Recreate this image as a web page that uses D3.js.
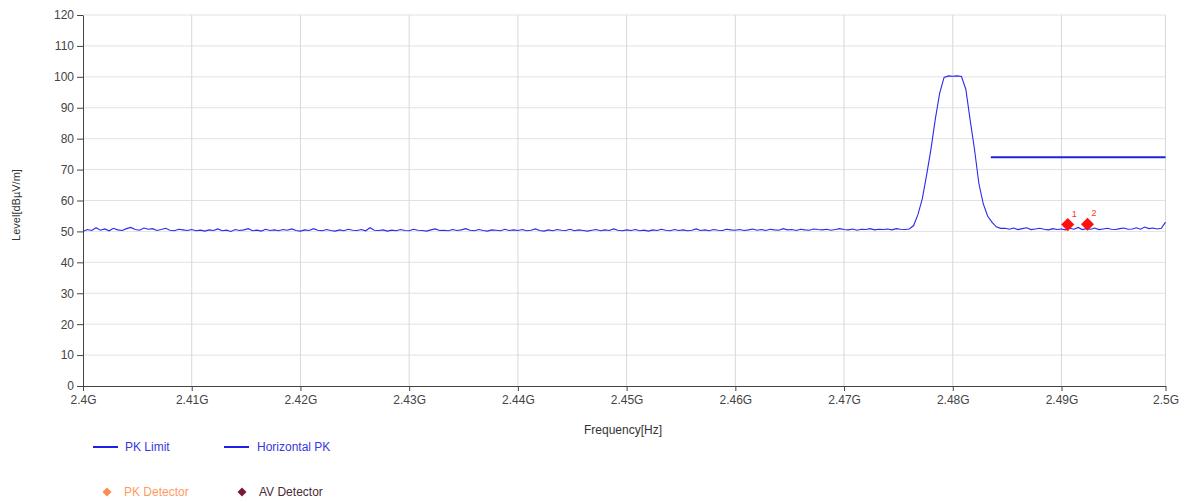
<!DOCTYPE html>
<html><head><meta charset="utf-8">
<script src="https://cdn.jsdelivr.net/npm/d3@7"></script>
<style>body{margin:0;background:#fff;font-family:"Liberation Sans",Arial,sans-serif;}</style>
</head><body><svg id="c" width="1185" height="502"></svg>
<script>
// ---- data ----
const xTicks = [2.4, 2.41, 2.42, 2.43, 2.44, 2.45, 2.46, 2.47, 2.48, 2.49, 2.5];
const yTicks = [0, 10, 20, 30, 40, 50, 60, 70, 80, 90, 100, 110, 120];
const sweepStart = 2.4, sweepStop = 2.5; // GHz
const traceLevels = [
 50.0,50.6,50.3,51.2,50.4,50.8,50.2,51.0,50.5,50.3,50.9,51.3,50.6,50.4,51.1,50.7,50.9,50.3,50.6,51.0,50.4,50.2,50.7,50.5,50.3,
 50.6,50.2,50.4,50.1,50.5,50.3,50.8,50.2,50.4,50.0,50.6,50.3,50.5,50.9,50.2,50.4,50.1,50.7,50.3,50.5,50.2,50.6,50.4,50.8,50.3,
 50.1,50.5,50.3,50.9,50.4,50.2,50.6,50.3,50.1,50.5,50.2,50.7,50.4,50.3,50.6,50.2,51.2,50.4,50.3,50.5,50.1,50.4,50.2,50.6,50.3,
 50.2,50.7,50.4,50.3,50.1,50.5,50.8,50.3,50.4,50.2,50.6,50.3,50.5,50.9,50.4,50.2,50.6,50.3,50.1,50.5,50.4,50.2,50.7,50.3,50.5,
 50.3,50.6,50.2,50.4,50.8,50.3,50.1,50.5,50.2,50.6,50.4,50.3,50.7,50.2,50.5,50.3,50.1,50.4,50.6,50.2,50.5,50.3,50.8,50.4,50.2,
 50.5,50.3,50.6,50.2,50.4,50.1,50.5,50.3,50.7,50.4,50.2,50.6,50.3,50.5,50.2,50.4,50.8,50.3,50.5,50.2,50.6,50.4,50.3,50.7,50.5,
 50.4,50.6,50.3,50.5,50.8,50.4,50.6,50.3,50.7,50.5,50.4,50.9,50.5,50.6,50.3,50.7,50.5,50.4,50.8,50.6,50.5,50.7,50.4,50.6,50.9,
 50.6,50.5,50.8,50.4,50.7,50.6,50.9,50.5,50.7,50.6,50.8,50.5,50.9,50.7,50.6,50.8,
 51.9,55.5,60.6,68.4,76.8,86.5,94.8,99.8,100.3,100.2,100.3,100.1,96.0,86.0,76.5,65.5,59.0,55.0,53.0,51.5,51.0,
 51.0,50.7,51.1,50.6,50.9,51.2,50.6,50.8,51.0,50.7,50.5,50.9,50.6,50.8,50.5,51.0,50.7,51.3,50.6,50.9,
 50.7,51.1,50.6,50.8,51.0,50.7,50.6,50.9,51.1,50.7,50.8,51.2,50.7,51.4,50.9,51.1,50.8,51.0,53.0
];
const limitFreq = [2.4835, 2.5];
const limitLevel = [74, 74];
const markerFreq = [2.4906, 2.4925];
const markerLevel = [52.2, 52.3];
const markerLabel = ["1", "2"];

// ---- chart ----
const svg = d3.select("#c");
const x = d3.scaleLinear().domain([2.4, 2.49, 2.5]).range([83, 1061.5, 1165.5]);
const y = d3.scaleLinear().domain([0, 120]).range([386, 15]);
const n = traceLevels.length;
const trace = traceLevels.map((v, i) => [sweepStart + (sweepStop - sweepStart) * i / (n - 1), v]);

// grid
svg.append("g").selectAll("line").data(yTicks.filter(d => d > 0)).join("line")
  .attr("x1", x(2.4)).attr("x2", x(2.5)).attr("y1", d => y(d)).attr("y2", d => y(d))
  .attr("stroke", "#e2e2e2").attr("stroke-width", 1);
svg.append("g").selectAll("line").data(xTicks.slice(1)).join("line")
  .attr("x1", d => x(d)).attr("x2", d => x(d)).attr("y1", y(0)).attr("y2", y(120))
  .attr("stroke", "#d8d8d8").attr("stroke-width", 1);

// axes
const yAxis = svg.append("g").attr("transform", `translate(${x(2.4)},0)`)
  .call(d3.axisLeft(y).tickValues(yTicks).tickSize(6).tickSizeOuter(0).tickPadding(3));
const xAxis = svg.append("g").attr("transform", `translate(0,${y(0)})`)
  .call(d3.axisBottom(x).tickValues(xTicks).tickFormat(d => (+d.toFixed(2)) + "G").tickSize(5).tickSizeOuter(0).tickPadding(4));
[yAxis, xAxis].forEach(a => {
  a.select(".domain").attr("stroke", "#444");
  a.selectAll(".tick line").attr("stroke", "#444");
  a.selectAll("text").attr("fill", "#444").style("font-size", "12px").style("font-family", '"Liberation Sans",Arial,sans-serif');
});

// axis titles
svg.append("text").attr("x", 623).attr("y", 434).attr("text-anchor", "middle")
  .attr("fill", "#333").style("font-size", "12px").text("Frequency[Hz]");
svg.append("text").attr("transform", "translate(20,205) rotate(-90)").attr("text-anchor", "middle")
  .attr("fill", "#333").style("font-size", "11px").text("Level[dBµV/m]");

// trace
const line = d3.line().x(d => x(d[0])).y(d => y(d[1]));
svg.append("path").datum(trace).attr("d", line).attr("fill", "none")
  .attr("stroke", "#2a2af0").attr("stroke-width", 1.1);

// limit
svg.append("path").datum(limitFreq.map((f, i) => [f, limitLevel[i]])).attr("d", line)
  .attr("fill", "none").attr("stroke", "#1f1fe6").attr("stroke-width", 2);

// markers (square diamonds)
const sq = d3.symbol().type(d3.symbolSquare);
markerFreq.forEach((f, i) => {
  svg.append("path").attr("d", sq.size(85)())
    .attr("transform", `translate(${x(f)},${y(markerLevel[i])}) rotate(45)`).attr("fill", "#ff1010");
  svg.append("text").attr("x", x(f) + 4).attr("y", y(markerLevel[i]) - 8)
    .attr("fill", "#ff3030").style("font-size", "9px").text(markerLabel[i]);
});

// legend
const lg = svg.append("g").style("font-size", "12px");
lg.append("line").attr("x1", 93).attr("x2", 118).attr("y1", 447).attr("y2", 447).attr("stroke", "#1f1fe6").attr("stroke-width", 2);
lg.append("text").attr("x", 125).attr("y", 451).attr("fill", "#3838e0").text("PK Limit");
lg.append("line").attr("x1", 224).attr("x2", 249).attr("y1", 447).attr("y2", 447).attr("stroke", "#1f1fe6").attr("stroke-width", 2);
lg.append("text").attr("x", 257).attr("y", 451).attr("fill", "#3838e0").text("Horizontal PK");
lg.append("path").attr("d", sq.size(40)()).attr("transform", "translate(107,492) rotate(45)").attr("fill", "#ff8a50");
lg.append("text").attr("x", 124).attr("y", 496).attr("fill", "#ff9a60").text("PK Detector");
lg.append("path").attr("d", sq.size(40)()).attr("transform", "translate(242,492) rotate(45)").attr("fill", "#7a1838");
lg.append("text").attr("x", 259).attr("y", 496).attr("fill", "#4a2a38").text("AV Detector");
</script></body></html>
